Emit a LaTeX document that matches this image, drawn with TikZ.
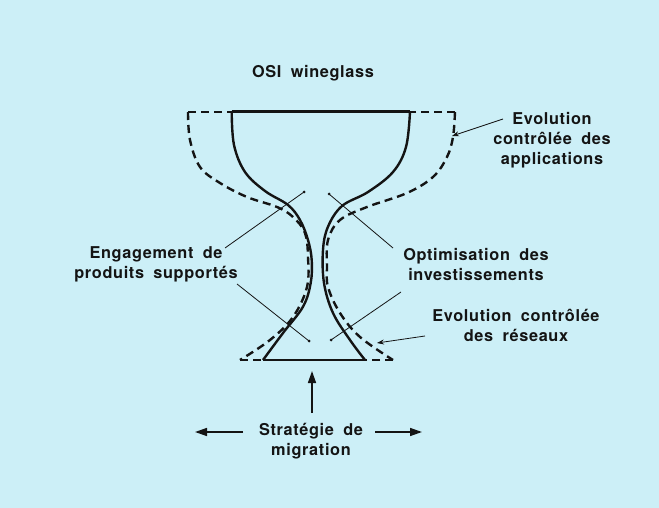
\documentclass[tikz,border=0pt]{standalone}
\usepackage{fontspec}
\usetikzlibrary{arrows.meta}
\newfontfamily\lblfont[LetterSpace=4,WordSpace=1.8]{TeX Gyre Heros}
\definecolor{bgc}{RGB}{204,239,247}
\definecolor{ink}{RGB}{20,20,20}
\tikzset{
  lbl/.style={font=\lblfont\bfseries\fontsize{16.3}{20}\selectfont, text=ink, align=center, inner sep=0pt},
  glass/.style={draw=ink, line width=2.4pt, line join=round},
  dashglass/.style={draw=ink, line width=2.4pt, dash pattern=on 8pt off 5pt},
  pointer/.style={draw=ink, line width=0.8pt},
  smallarrow/.style={draw=ink, line width=0.8pt, -{Stealth[length=7pt,width=5pt]}},
  bigarrow/.style={draw=ink, line width=1.5pt, -{Triangle[length=12pt,width=8pt]}},
  tipdot/.style={circle, fill=ink, inner sep=0pt, minimum size=3pt}
}
\begin{document}
\begin{tikzpicture}[x=1pt,y=-1pt]
\fill[bgc] (0,0) rectangle (659,508);
\useasboundingbox (0,0) rectangle (659,508);

% solid glass
\draw[glass] plot[smooth, tension=0.6] coordinates {(231.7,111.7) (234,145) (245,172) (265,191) (288,205) (300,220) (308,240) (311.7,260) (310.7,283) (303,306.7) (283,333) (263,360)};
\draw[glass] plot[smooth, tension=0.6] coordinates {(410,111.7) (406,147) (393,172) (368,192) (342,206) (328,226.7) (323,250) (324,283) (333,313) (350,340) (365,360)};
\draw[glass] (231.7,111.7) -- (410,111.7);
\draw[glass] (263,360) -- (365,360);

% dashed glass
\draw[dashglass] plot[smooth, tension=0.6] coordinates {(188,112) (190,140) (200,167) (220,183) (247,197) (277,207) (293,217) (305,233) (308,257) (307,287) (293,317) (270,340) (240,360)};
\draw[dashglass] plot[smooth, tension=0.6] coordinates {(455,112) (453,137) (447,157) (433,177) (407,193) (367,207) (340,220) (328,240) (327,267) (328,287) (340,313) (360,337) (393,360)};
\draw[dashglass] (188,112) -- (231.7,112);
\draw[dashglass] (455,112) -- (410,112);
\draw[dashglass] (240,360) -- (263,360);
\draw[dashglass] (393,360) -- (365,360);

% labels
\node[lbl] (title) at (313,73) {OSI wineglass};
\node[lbl] (app) at (552,140) {Evolution\\contrôlée des\\applications};
\node[lbl] (eng) at (156,264) {Engagement de\\produits supportés};
\node[lbl] (opt) at (476,265) {Optimisation des\\investissements};
\node[lbl] (res) at (516,325) {Evolution contrôlée\\des réseaux};
\node[lbl] (strat) at (311,441) {Stratégie de\\migration};

% dots
\node[tipdot] (d1) at (304,192) {};
\node[tipdot] (d2) at (309,341) {};
\node[tipdot] (d3) at (329,194) {};
\node[tipdot] (d4) at (331,340) {};

% pointer start coordinates
\coordinate (p1) at (225,248);
\coordinate (p2) at (237,284);
\coordinate (p3) at (393,248);
\coordinate (p4) at (401,292);
\draw[pointer] (p1) -- (d1.center);
\draw[pointer] (p2) -- (d2.center);
\draw[pointer] (p3) -- (d3.center);
\draw[pointer] (p4) -- (d4.center);

% small arrows
\coordinate (a1s) at (503,119);
\coordinate (a1e) at (452,136);
\coordinate (a2s) at (425,336);
\coordinate (a2e) at (377,343);
\draw[smallarrow] (a1s) -- (a1e);
\draw[smallarrow] (a2s) -- (a2e);

% migration arrows
\coordinate (lt) at (243,432);
\coordinate (le) at (195,432);
\coordinate (rt) at (375,432);
\coordinate (re) at (422,432);
\coordinate (ut) at (312,413);
\coordinate (ue) at (312,371);
\draw[bigarrow] (lt) -- (le);
\draw[bigarrow] (rt) -- (re);
\draw[bigarrow] (ut) -- (ue);
\end{tikzpicture}
\end{document}
